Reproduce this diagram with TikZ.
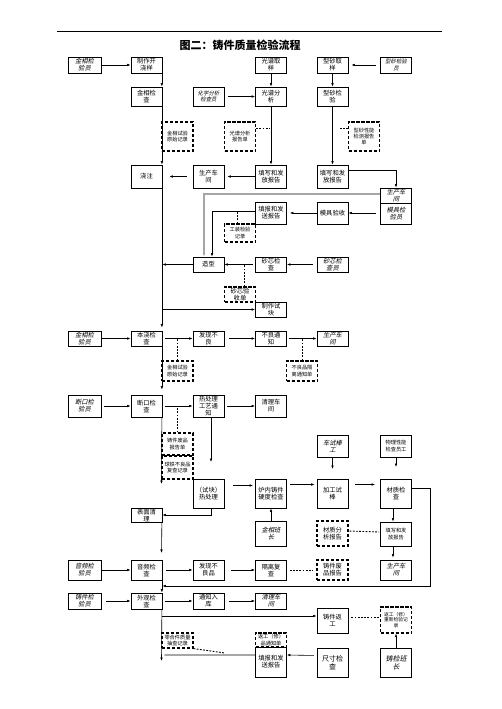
\documentclass[tikz,border=0pt]{standalone}
\usepackage{fontspec}
\newfontfamily\cjk{Noto Sans CJK SC}
\newfontfamily\cjkit[FakeSlant=0.22]{Noto Sans CJK SC}
\usetikzlibrary{arrows.meta,calc}
\tikzset{
 bx/.style={draw, line width=0.75pt, minimum width=31pt, inner sep=0pt, align=center, font=\cjk\fontsize{6.3}{7}\selectfont},
 ibx/.style={bx, font=\cjkit\fontsize{6.3}{7}\selectfont},
 sbx/.style={bx, font=\cjk\fontsize{5.2}{6.2}\selectfont},
 sibx/.style={bx, font=\cjkit\fontsize{5.4}{6.4}\selectfont},
 dbx/.style={draw, line width=1.2pt, dash pattern=on 3.2pt off 1.8pt, minimum width=31pt, inner sep=0pt, align=center, font=\cjk\fontsize{5.2}{6.2}\selectfont},
 ldbx/.style={dbx, font=\cjk\fontsize{6.3}{7}\selectfont},
 ar/.style={-{Latex[length=3.5pt,width=2.6pt]}, line width=0.6pt},
 dl/.style={line width=0.9pt, dash pattern=on 1.8pt off 1.4pt},
 gl/.style={ar, line width=1.4pt, draw=black!35},
}
\begin{document}
\begin{tikzpicture}[x=1pt,y=-1pt]
\useasboundingbox (0,0) rectangle (502,709);
\draw[line width=0.8pt] (57,31) -- (442,31);
\node[font=\cjk\bfseries\fontsize{11}{13}\selectfont] (title) at (240,45) {图二：铸件质量检验流程};

% row 1
\node[ibx,minimum width=33pt,minimum height=16pt] (a1) at (84.5,65) {金相检\\验员};
\node[bx,minimum height=16pt] (b1) at (146.5,65) {制作开\\浇样};
\node[bx,minimum height=16pt] (d1) at (271,65) {光谱取\\样};
\node[bx,minimum height=16pt] (e1) at (332.5,65) {型砂取\\样};
\node[sibx,minimum height=16pt] (f1) at (396,65) {型砂检验\\员};
% row 2
\node[bx,minimum height=19pt] (b2) at (146.5,96.5) {金相检\\查};
\node[sibx,minimum height=19pt] (c2) at (208.5,96.5) {化学分析\\检查员};
\node[bx,minimum height=19pt] (d2) at (271,96.5) {光谱分\\析};
\node[bx,minimum height=19pt] (e2) at (332.5,96.5) {型砂检\\验};
% row 3
\node[dbx,minimum height=29pt] (m3) at (177.5,136.5) {金相试验\\原始记录};
\node[dbx,minimum height=29pt] (n3) at (240,136.5) {光谱分析\\报告单};
\node[dbx,minimum height=29pt] (p3) at (364,136.5) {型砂性能\\检测报告\\单};
% row 4
\node[bx,minimum height=23pt] (b4) at (146.5,176.5) {浇注};
\node[bx,minimum height=23pt] (c4) at (208.5,176.5) {生产车\\间};
\node[bx,minimum height=23pt] (d4) at (271,176.5) {填写和发\\放报告};
\node[bx,minimum height=23pt] (e4) at (332.5,176.5) {填写和发\\放报告};
\node[ibx,minimum height=15pt] (f5a) at (396,195.5) {生产车\\间};
\node[ibx,minimum height=21pt] (f5b) at (396,213.5) {模具检\\验员};
% row 5
\node[bx,minimum height=22pt] (d5) at (271,213) {填报和发\\送报告};
\node[bx,minimum height=22pt] (e5) at (332.5,213) {模具验收};
\node[dbx,minimum height=18pt] (n5) at (240,233) {工装检验\\记录};
% row 6
\node[bx,minimum height=15pt] (c6) at (208.5,264.5) {造型};
\node[bx,minimum height=15pt] (d6) at (271,264.5) {砂芯检\\查};
\node[ibx,minimum height=15pt] (e6) at (332.5,264.5) {砂芯检\\查员};
\node[ldbx,minimum height=15pt] (n6) at (240,294.5) {砂芯验\\收单};
\node[bx,minimum height=15pt] (d7) at (271,309.5) {制作试\\块};
% row 8
\node[ibx,minimum width=33pt,minimum height=15pt] (a8) at (84.5,338.5) {金相检\\验员};
\node[bx,minimum height=15pt] (b8) at (146.5,338.5) {本浇检\\查};
\node[bx,minimum height=15pt] (c8) at (208.5,338.5) {发现不\\良};
\node[bx,minimum height=15pt] (d8) at (271,338.5) {不良通\\知};
\node[ibx,minimum height=15pt] (e8) at (332.5,338.5) {生产车\\间};
\node[dbx,minimum height=20pt] (m8) at (177.5,371) {金相试验\\原始记录};
\node[dbx,minimum height=20pt] (q8) at (302,371) {不良品隔\\离通知单};
% row 9
\node[ibx,minimum width=33pt,minimum height=22pt] (a9) at (84.5,406) {断口检\\验员};
\node[bx,minimum height=22pt] (b9) at (146.5,406) {断口检\\查};
\node[bx,minimum height=22pt] (c9) at (208.5,406) {热处理\\工艺通\\知};
\node[bx,minimum height=22pt] (d9) at (271,406) {清理车\\间};
\node[dbx,minimum height=22pt] (m9a) at (177.5,444) {铸件废品\\报告单};
\node[dbx,minimum height=23pt] (m9b) at (177.5,467.5) {球铁不良品\\复查记录};
\node[ibx,minimum height=22pt] (e9) at (332.5,446) {车试棒\\工};
\node[sbx,minimum height=22pt] (f9) at (396,446) {物理性能\\检查员工};
% row 10
\node[bx,minimum height=29pt] (c10) at (208.5,493.5) {（试块）\\热处理};
\node[bx,minimum height=29pt] (d10) at (271,493.5) {炉内铸件\\硬度检查};
\node[bx,minimum height=29pt] (e10) at (332.5,493.5) {加工试\\棒};
\node[bx,minimum height=29pt] (f10) at (396,493.5) {材质检\\查};
\node[bx,minimum height=14pt] (b11) at (146.5,515) {表面清\\理};
% row 11
\node[ibx,minimum height=25pt] (d11) at (271,533.5) {金相班\\长};
\node[ldbx,minimum height=25pt] (e11) at (332.5,533.5) {材质分\\析报告};
\node[sbx,minimum height=24pt] (f11) at (396,534) {填写和发\\放报告};
% row 12
\node[ibx,minimum width=33pt,minimum height=20pt] (a12) at (84.5,570) {音频检\\验员};
\node[bx,minimum height=20pt] (b12) at (146.5,570) {音频检\\查};
\node[bx,minimum height=20pt] (c12) at (208.5,570) {发现不\\良品};
\node[bx,minimum height=20pt] (d12) at (271,570) {隔离复\\查};
\node[ldbx,minimum height=20pt] (e12) at (332.5,570) {铸件废\\品报告};
\node[ibx,minimum height=20pt] (f12) at (396,570) {生产车\\间};
% row 13
\node[ibx,minimum width=33pt,minimum height=16pt] (a13) at (84.5,601) {铸件检\\验员};
\node[bx,minimum height=16pt] (b13) at (146.5,601) {外观检\\查};
\node[bx,minimum height=16pt] (c13) at (208.5,601) {通知入\\库};
\node[ibx,minimum height=16pt] (d13) at (271,601) {清理车\\间};
\node[bx,minimum height=25pt] (e13) at (332.5,620.5) {铸件返\\工};
\node[dbx,minimum height=26pt,font=\cjk\fontsize{4.8}{5.8}\selectfont] (f13) at (396,620) {返工（修）\\重新检验记\\录};
% row 14
\node[dbx,minimum height=15pt] (m14) at (177.5,640.5) {零合件质量\\抽查记录};
\node[bx,minimum height=30pt] (d14b) at (271,662) {填报和发\\送报告};
\node[dbx,minimum height=14pt] (d14a) at (271,640) {返工（修）\\品通知单};
\node[bx,minimum height=29pt,font=\cjk\fontsize{7}{8}\selectfont] (e14) at (332.5,662.5) {尺寸检\\查};
\node[ibx,minimum height=29pt,font=\cjkit\fontsize{7}{8}\selectfont] (f14) at (396,662.5) {铸检班\\长};

% free ends
\coordinate (s9) at (161.5,484);
\coordinate (c9t) at (211,462);
\coordinate (e9t) at (332.5,469);
\coordinate (f9t) at (396,467);
\coordinate (s11) at (161.5,553);
\coordinate (rt) at (430,488);
\coordinate (rb) at (430,586);
\coordinate (s13) at (161.5,661);
\coordinate (br) at (161.5,616);
\coordinate (s14) at (163,655);
\coordinate (dg) at (225,653);
\coordinate (n5t) at (237,211);
\coordinate (n6t) at (244,264.5);

% connectors
\draw[ar] (a1) -- (b1);
\draw[ar,shorten <=4pt,shorten >=3pt] (f1) -- (e1);
\draw[ar] ([xshift=-0.5pt]b1.south east) -- ([xshift=-0.5pt]b2.north east);
\draw[ar] (d1) -- (d2);
\draw[ar] (e1) -- (e2);
\draw[ar,shorten <=4pt] (c2) -- (d2);
\draw[ar] ([xshift=-0.5pt]b2.south east) -- ([xshift=-0.5pt]b4.north east);
\draw[ar] (d2) -- (d4);
\draw[ar] (e2) -- (e4);
\draw[dl] ([yshift=8pt]n3.east) -- ++(13,0);
\draw[dl] ([yshift=8pt]p3.west) -- ++(-9,0);
\draw[ar,shorten <=6pt,shorten >=7pt] (c4) -- (b4);
\draw[ar,shorten >=3pt] (d4) -- (c4);
\draw[ar] ([yshift=6pt]e4.east) -| (f5a.north);
\draw[gl] ([yshift=1.5pt]f5a.west) -| ([xshift=-4.5pt]c6.north);
\draw[ar,shorten <=4pt] (f5b.west |- e5.east) -- (e5.east);
\draw[ar,shorten >=3pt] (e5) -- (d5);
\draw[ar] ([yshift=2pt]d5.west) -| ([xshift=3.5pt]c6.north);
\draw[dl] ([xshift=-3pt]n5.north) -- (n5t);
\draw[ar,shorten <=4pt] (e6) -- (d6);
\draw[ar,shorten <=2pt] (d6) -- (c6);
\draw[ar] (c6.west) -- (c6.west -| b4.east);
\draw[dl] ([xshift=4pt]n6.north) -- (n6t);
\draw[ar,shorten >=3pt] ([xshift=-0.5pt]b4.south east) -- ([xshift=-0.5pt]b8.north east);
\draw[ar] (d7.west -| b4.east) -- (d7.west);
\draw[ar,line width=1pt] (a8) -- (b8);
\draw[ar,shorten <=3pt] (b8) -- (c8);
\draw[ar,shorten <=5pt] (c8) -- (d8);
\draw[ar,shorten <=2pt] (d8) -- (e8);
\draw[dl] (m8.north) -- (m8.north |- b8.east);
\draw[dl] (q8.north) -- (q8.north |- d8.east);
\draw[ar,shorten >=5pt] ([xshift=-0.5pt]b8.south east) -- ([xshift=-0.5pt]b9.north east);
\draw[ar,shorten <=3pt] (a9) -- (b9);
\draw[ar,shorten <=3pt] (b9) -- (c9);
\draw[ar,shorten <=3pt] (c9) -- (d9);
\draw[dl] (m9a.north) -- (m9a.north |- b9.east);
\draw[ar] ([xshift=-0.5pt]b9.south east) -- (s9);
\draw[ar] (c9.south -| c9t) -- (c9t);
\draw[ar] (e9) -- (e9t);
\draw[ar] (f9) -- (f9t);
\draw[ar,shorten <=9pt,shorten >=2pt] ([yshift=8pt]c10.east) -- ([yshift=8pt]d10.west);
\draw[ar,shorten <=3pt,shorten >=2pt] ([yshift=9pt]d10.east) -- ([yshift=9pt]e10.west);
\draw[ar,shorten <=7pt,shorten >=5pt] ([yshift=9pt]e10.east) -- ([yshift=9pt]f10.west);
\draw[ar] ([xshift=2.5pt]c10.south) |- (b11.east);
\draw[ar] ([xshift=-0.5pt]b11.south east) -- (s11);
\draw[ar] (d11) -- (d10);
\draw[ar] ([xshift=-3pt]f10.south) -- ([xshift=-3pt]f11.north);
\draw[ar,shorten >=2pt] ([xshift=-3pt]f11.south) -- ([xshift=-3pt]f12.north);
\draw[dl,shorten <=1pt,shorten >=1pt] ([yshift=2.5pt]e11.east) -- ([yshift=2pt]f11.west);
\draw[ar] (f10.east |- rt) -- (rt) -- (rb) -- (rb -| b12.east);
\draw[ar] (a12) -- (b12);
\draw[ar,shorten <=4pt] (b12) -- (c12);
\draw[ar,shorten <=7pt] (c12) -- (d12);
\draw[dl,shorten <=3pt,shorten >=3pt] (d12) -- (e12);
\draw[ar] ([xshift=-0.5pt]b12.south east) -- ([xshift=-0.5pt]b13.north east);
\draw[ar,shorten <=5pt] (a13) -- (b13);
\draw[ar,shorten <=3pt] (b13) -- (c13);
\draw[ar,shorten <=5pt] (c13) -- (d13);
\draw[ar] ([xshift=-0.5pt]b13.south east) -- (s13);
\draw[ar] (br) -- (br -| e13.west);
\draw[dl,shorten <=3pt] ([yshift=3.5pt]e13.east) -- ([yshift=3pt]f13.west);
\draw[ar] (f14) -- (f13);
\draw[ar,shorten <=3pt] ([yshift=7pt]e14.west) -- ([yshift=7pt]d14b.east);
\draw[gl] ([yshift=7pt]d14b.west) -- (s14);
\draw[dl] (m14.south east) -- (dg);
\end{tikzpicture}
\end{document}
